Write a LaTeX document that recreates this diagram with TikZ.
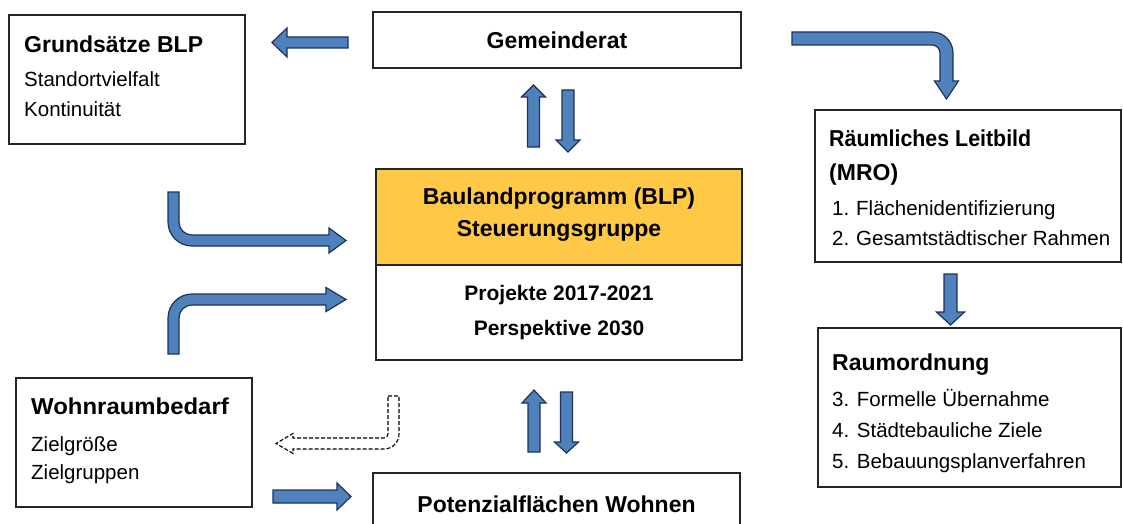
\documentclass[tikz,border=0pt]{standalone}
\usepackage{fontspec}
\setmainfont{Liberation Sans}
\usetikzlibrary{calc}

\definecolor{blpgold}{RGB}{255,200,71}
\definecolor{arrowfill}{RGB}{79,129,189}
\definecolor{arrowline}{RGB}{28,50,92}
\definecolor{boxline}{RGB}{38,38,38}

\tikzset{
  box/.style={draw=boxline, line width=1.1pt, fill=white, inner sep=0pt},
  blockarrow/.style={fill=arrowfill, draw=arrowline, line width=1.2pt, line join=miter},
  ghostarrow/.style={draw=black, line width=1.1pt, dash pattern=on 4pt off 2pt, fill=none},
  title/.style={inner sep=0pt, font=\fontsize{23}{27}\selectfont\bfseries},
  subtitle/.style={inner sep=0pt, font=\fontsize{21}{25}\selectfont\bfseries},
  item/.style={inner sep=0pt, font=\fontsize{20.5}{24}\selectfont},
}
\newcommand{\num}[1]{\makebox[24pt][l]{#1}}

\begin{document}
\begin{tikzpicture}[x=1pt, y=-1pt]
\useasboundingbox (0,0) rectangle (1123,524);

% boxes
\node[box, minimum width=236pt, minimum height=129pt] (grund) at (127,79.5) {};
\node[box, minimum width=368pt, minimum height=56pt] (gem) at (557,40) {};
\node[box, fill=blpgold, minimum width=366pt, minimum height=96pt] (blptop) at (559,217) {};
\node[box, minimum width=366pt, minimum height=95pt] (blpbot) at (559,312.5) {};
\node[box, minimum width=306pt, minimum height=152pt] (raeum) at (968,186) {};
\node[box, minimum width=303pt, minimum height=159pt] (raum) at (969.5,407.5) {};
\node[box, minimum width=236pt, minimum height=129pt] (wohn) at (134,442.5) {};
\node[box, minimum width=367pt, minimum height=57pt] (pot) at (556.5,501.5) {};

% texts
\node[title, anchor=base west] (grundT) at (24,53) {Grundsätze BLP};
\node[item, anchor=base west] (grund1) at (24,87) {Standortvielfalt};
\node[item, anchor=base west] (grund2) at (24,117) {Kontinuität};

\node[title, anchor=base] (gemT) at (557,49) {Gemeinderat};

\node[title, anchor=base] (blpT1) at (559,204) {Baulandprogramm (BLP)};
\node[title, anchor=base] (blpT2) at (559,236) {Steuerungsgruppe};
\node[subtitle, anchor=base] (blp1) at (559,300) {Projekte 2017-2021};
\node[subtitle, anchor=base] (blp2) at (559,335) {Perspektive 2030};

\node[title, anchor=base west] (raeumT1) at (829,146) {\addfontfeature{FakeStretch=0.93}Räumliches Leitbild};
\node[title, anchor=base west] (raeumT2) at (829,180) {(MRO)};
\node[item, anchor=base west] (raeum1) at (832,215) {\num{1.}Flächenidentifizierung};
\node[item, anchor=base west] (raeum2) at (832,245) {\num{2.}Gesamtstädtischer Rahmen};

\node[title, anchor=base west] (raumT) at (832,370) {Raumordnung};
\node[item, anchor=base west] (raum1) at (832,406) {3. Formelle Übernahme};
\node[item, anchor=base west] (raum2) at (832,437) {4. Städtebauliche Ziele};
\node[item, anchor=base west] (raum3) at (832,468) {5. Bebauungsplanverfahren};

\node[title, anchor=base west] (wohnT) at (31,414) {\addfontfeature{FakeStretch=1.04}Wohnraumbedarf};
\node[item, anchor=base west] (wohn1) at (31,451) {Zielgröße};
\node[item, anchor=base west] (wohn2) at (31,479) {Zielgruppen};

\node[title, anchor=base] (potT) at (556.5,512) {Potenzialflächen Wohnen};

% Gemeinderat -> Grundsätze
\draw[blockarrow] (348,37) -- (287,37) -- (287,28) -- (272,42.5) -- (287,57) -- (287,48) -- (348,48) -- cycle;

% Gemeinderat <-> Steuerungsgruppe
\draw[blockarrow] (527.5,147) -- (527.5,97) -- (521.5,97) -- (533.5,85) -- (545.5,97) -- (539.5,97) -- (539.5,147) -- cycle;
\draw[blockarrow] (562,90) -- (562,140) -- (556,140) -- (568,152) -- (580,140) -- (574,140) -- (574,90) -- cycle;

% Gemeinderat -> Räumliches Leitbild
\draw[blockarrow] (792,32) -- (932,32) .. controls (943.6,32) and (953,41.4) .. (953,53)
  -- (953,81) -- (958.5,81) -- (946.5,99) -- (934.5,81) -- (940,81) -- (940,53)
  .. controls (940,48.58) and (936.42,45) .. (932,45) -- (792,45) -- cycle;

% Räumliches Leitbild -> Raumordnung
\draw[blockarrow] (944,274) -- (944,312) -- (936.5,312) -- (950.5,325) -- (964.5,312) -- (957,312) -- (957,274) -- cycle;

% bent arrows into the Steuerungsgruppe
\draw[blockarrow] (168,192) -- (179,192) -- (179,222) .. controls (179,229.18) and (184.82,235) .. (192,235)
  -- (329,235) -- (329,228) -- (346,240.5) -- (329,253) -- (329,246) -- (192,246)
  .. controls (178.75,246) and (168,235.25) .. (168,222) -- cycle;
\draw[blockarrow] (168,354) -- (168,318) .. controls (168,304.75) and (178.75,294) .. (192,294)
  -- (326,294) -- (326,287.5) -- (346,299.5) -- (326,311.5) -- (326,305) -- (192,305)
  .. controls (184.82,305) and (179,310.82) .. (179,318) -- (179,354) -- cycle;

% Steuerungsgruppe <-> Potenzialflächen
\draw[blockarrow] (528,452) -- (528,403) -- (522,403) -- (534,390) -- (546,403) -- (540,403) -- (540,452) -- cycle;
\draw[blockarrow] (560.5,392) -- (560.5,442) -- (554.5,442) -- (566.5,453) -- (578.5,442) -- (572.5,442) -- (572.5,392) -- cycle;

% dashed feedback towards Wohnraumbedarf
\draw[ghostarrow] (388,396) -- (399,396) -- (399,434) .. controls (399,442.28) and (392.28,449) .. (384,449)
  -- (293,449) -- (293,453.5) -- (276,443.5) -- (293,433.5) -- (293,438) -- (384,438)
  .. controls (386.2,438) and (388,436.2) .. (388,434) -- cycle;

% Wohnraumbedarf -> Potenzialflächen
\draw[blockarrow] (273,490) -- (337,490) -- (337,483) -- (351,496.5) -- (337,510) -- (337,503) -- (273,503) -- cycle;

\end{tikzpicture}
\end{document}
